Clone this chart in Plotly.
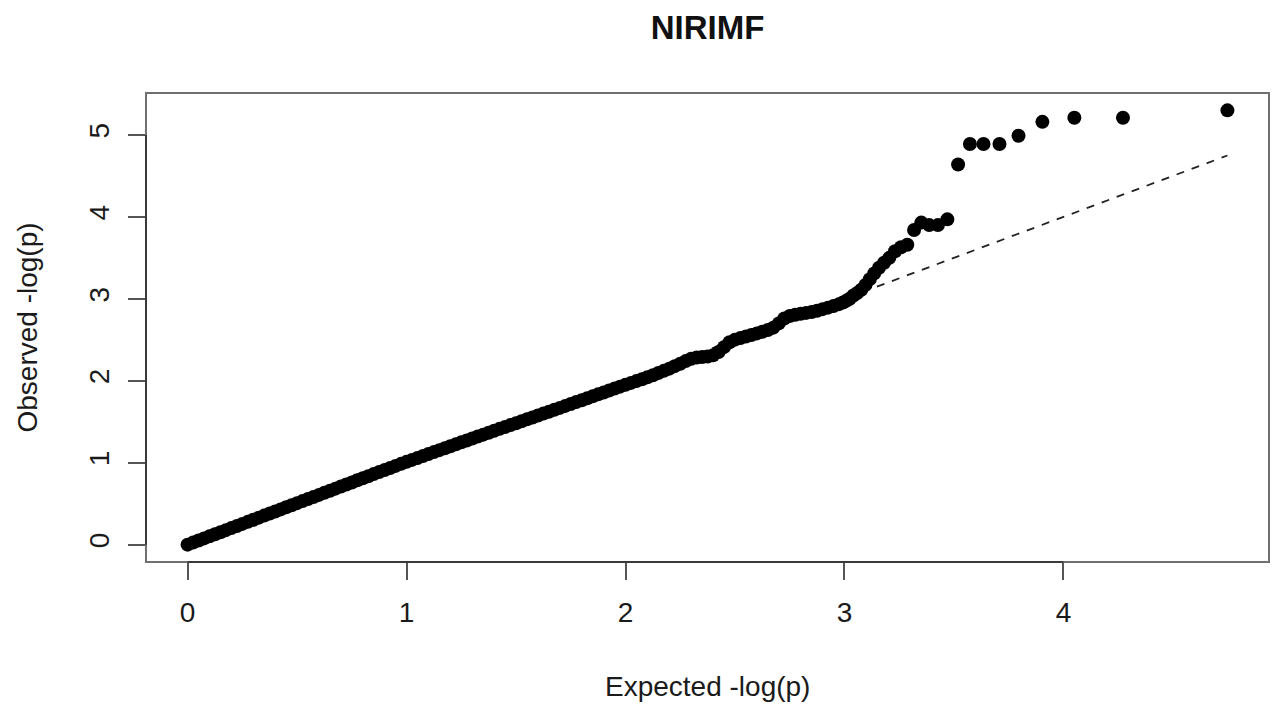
import plotly.graph_objects as go

# Q-Q plot of -log10 p-values for the NIRIMF trait
title_text = "NIRIMF"
x_title = "Expected -log(p)"
y_title = "Observed -log(p)"
x_ticks = [0, 1, 2, 3, 4]
y_ticks = [0, 1, 2, 3, 4, 5]

# bulk of the distribution (expected quantile, observed value)
bulk_expected = [
    0.000, 0.025, 0.050, 0.075, 0.100, 0.125, 0.150, 0.175, 0.200, 0.225,
    0.250, 0.275, 0.300, 0.325, 0.350, 0.375, 0.400, 0.425, 0.450, 0.475,
    0.500, 0.525, 0.550, 0.575, 0.600, 0.625, 0.650, 0.675, 0.700, 0.725,
    0.750, 0.775, 0.800, 0.825, 0.850, 0.875, 0.900, 0.925, 0.950, 0.975,
    1.000, 1.025, 1.050, 1.075, 1.100, 1.125, 1.150, 1.175, 1.200, 1.225,
    1.250, 1.275, 1.300, 1.325, 1.350, 1.375, 1.400, 1.425, 1.450, 1.475,
    1.500, 1.525, 1.550, 1.575, 1.600, 1.625, 1.650, 1.675, 1.700, 1.725,
    1.750, 1.775, 1.800, 1.825, 1.850, 1.875, 1.900, 1.925, 1.950, 1.975,
    2.000, 2.025, 2.050, 2.075, 2.100, 2.125, 2.150, 2.175, 2.200, 2.225,
    2.250, 2.275, 2.300, 2.325, 2.350, 2.375, 2.400, 2.425, 2.450, 2.475,
    2.500, 2.525, 2.550, 2.575, 2.600, 2.625, 2.650, 2.675, 2.700, 2.725,
    2.750, 2.775, 2.800, 2.825, 2.850, 2.875, 2.900, 2.925, 2.950, 2.975,
]
bulk_observed = [
    0.000, 0.025, 0.050, 0.076, 0.101, 0.126, 0.152, 0.177, 0.202, 0.228,
    0.253, 0.278, 0.304, 0.329, 0.354, 0.380, 0.405, 0.430, 0.456, 0.481,
    0.506, 0.531, 0.557, 0.582, 0.607, 0.633, 0.658, 0.683, 0.709, 0.734,
    0.759, 0.785, 0.810, 0.835, 0.861, 0.886, 0.911, 0.936, 0.961, 0.986,
    1.010, 1.034, 1.058, 1.082, 1.106, 1.129, 1.153, 1.177, 1.200, 1.224,
    1.248, 1.271, 1.295, 1.319, 1.342, 1.366, 1.389, 1.413, 1.436, 1.459,
    1.482, 1.505, 1.529, 1.552, 1.576, 1.599, 1.622, 1.646, 1.669, 1.693,
    1.716, 1.740, 1.763, 1.786, 1.810, 1.834, 1.857, 1.881, 1.904, 1.928,
    1.952, 1.974, 1.996, 2.019, 2.042, 2.068, 2.094, 2.121, 2.148, 2.178,
    2.208, 2.240, 2.268, 2.283, 2.290, 2.296, 2.310, 2.350, 2.410, 2.470,
    2.502, 2.522, 2.540, 2.558, 2.578, 2.598, 2.620, 2.648, 2.700, 2.760,
    2.790, 2.806, 2.818, 2.828, 2.838, 2.855, 2.874, 2.892, 2.912, 2.935,
]

# upper tail, one entry per SNP (ranks 29 down to 1)
tail_expected = [
    2.993, 3.008, 3.024, 3.041, 3.058, 3.077, 3.096, 3.116, 3.136, 3.158,
    3.181, 3.205, 3.231, 3.258, 3.287, 3.318, 3.351, 3.387, 3.427, 3.470,
    3.519, 3.573, 3.635, 3.708, 3.795, 3.904, 4.050, 4.272, 4.749,
]
tail_observed = [
    2.955, 2.975, 3.000, 3.040, 3.070, 3.110, 3.170, 3.240, 3.310, 3.380,
    3.440, 3.500, 3.580, 3.630, 3.660, 3.840, 3.930, 3.900, 3.900, 3.970,
    4.640, 4.890, 4.890, 4.890, 4.990, 5.160, 5.210, 5.210, 5.300,
]

expected = bulk_expected + tail_expected
observed = bulk_observed + tail_observed

max_expected = max(expected)
max_observed = max(observed)

FONT = "Liberation Sans, Arial, Helvetica, sans-serif"
W, H = 1274, 707
ML, MR, MT, MB = 146, 5, 93, 145

fig = go.Figure()

# null expectation y = x
fig.add_trace(go.Scatter(
    x=[0, max_expected], y=[0, max_expected], mode="lines",
    line=dict(color="#222222", width=1.8, dash="8px,8px"),
    hoverinfo="skip", showlegend=False,
))

fig.add_trace(go.Scatter(
    x=expected, y=observed, mode="markers",
    marker=dict(color="black", size=14, line=dict(width=0)),
    showlegend=False,
))

# R-style ranges: data range padded by 4% on each side
x_pad = 0.04 * max_expected
y_pad = 0.04 * max_observed
x_range = [-x_pad, max_expected + x_pad]
y_range = [-y_pad, max_observed + y_pad]

axis_common = dict(
    showgrid=False, zeroline=False, showline=False,
    ticks="outside", ticklen=17, tickwidth=1.8, tickcolor="#555555",
    tickfont=dict(family=FONT, size=28, color="#1a1a1a"),
)

fig.update_xaxes(range=x_range, tickvals=x_ticks, ticklabelstandoff=8, **axis_common)
fig.update_yaxes(range=y_range, tickvals=y_ticks, tickangle=-90,
                 ticklabelstandoff=8, **axis_common)

shapes = [
    # plot frame
    dict(type="rect", xref="paper", yref="paper", x0=0, x1=1, y0=0, y1=1,
         line=dict(color="#707070", width=2), layer="above"),
    # axis lines spanning the tick range
    dict(type="line", xref="x", yref="paper", x0=x_ticks[0], x1=x_ticks[-1],
         y0=0, y1=0, line=dict(color="#3a3a3a", width=2), layer="above"),
    dict(type="line", xref="paper", yref="y", x0=0, x1=0,
         y0=y_ticks[0], y1=y_ticks[-1], line=dict(color="#3a3a3a", width=2),
         layer="above"),
]

plot_h = H - MT - MB
plot_w = W - ML - MR
annotations = [
    dict(text=x_title, xref="paper", yref="paper", x=0.5,
         y=-(686 - (H - MB)) / plot_h, xanchor="center", yanchor="middle",
         showarrow=False, font=dict(family=FONT, size=28, color="#1a1a1a")),
    dict(text=y_title, xref="paper", yref="paper", x=-(ML - 27) / plot_w,
         y=0.5, xanchor="center", yanchor="middle", textangle=-90,
         showarrow=False, font=dict(family=FONT, size=28, color="#1a1a1a")),
]

fig.update_layout(
    width=W, height=H, autosize=False,
    margin=dict(l=ML, r=MR, t=MT, b=MB, pad=0),
    paper_bgcolor="white", plot_bgcolor="white",
    title=dict(text="<b>" + title_text + "</b>", x=(ML + plot_w / 2) / W,
               xanchor="center", y=1 - 27 / H, yanchor="middle",
               font=dict(family=FONT, size=33, color="#111111")),
    shapes=shapes, annotations=annotations,
)

fig.write_html("out.html")
